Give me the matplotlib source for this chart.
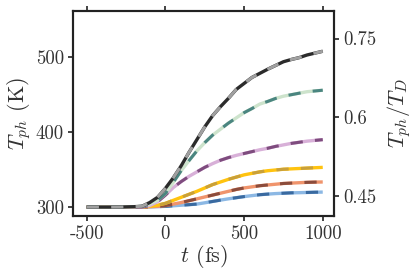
import matplotlib
matplotlib.use("Agg")
import matplotlib.pyplot as plt
import numpy as np

plt.rcParams['font.family'] = 'cmr10'
plt.rcParams['mathtext.fontset'] = 'cm'
plt.rcParams['axes.unicode_minus'] = False
plt.rcParams['axes.formatter.use_mathtext'] = False

t = [-500, -400, -300, -200, -150, -100, -50, 0, 50, 100, 150, 200, 250, 300, 350, 400,
     450, 500, 550, 600, 650, 700, 750, 800, 850, 900, 950, 1000]

T_black = [300, 300, 300, 300.5, 301, 306, 313, 325, 339, 355, 373, 390, 407, 422, 434, 445,
           457, 465, 473, 478.5, 484, 489, 494, 497, 499.5, 503, 505.5, 508]
T_teal = [300, 300, 300, 300.5, 301, 304, 309, 318, 333, 348.5, 362, 375, 386, 396, 404, 412,
          419, 426, 431.5, 437.5, 441, 445, 448, 450, 452, 454, 455, 456]
T_purple = [300, 300, 300, 300, 300, 302, 307, 316, 326, 334, 341, 347, 353, 358, 362.5, 366,
            369, 371.5, 374, 376.5, 378.5, 381, 383, 385, 386.5, 388, 389, 390]
T_yellow = [300, 300, 300, 300, 300, 301, 302.5, 305, 309, 313, 317, 321, 325.5, 330, 333.5, 337,
            340, 343, 345, 347, 348.5, 349.5, 350.5, 351, 351.5, 352, 352.5, 353]
T_brown = [300, 300, 300, 300, 300, 300.5, 301, 302, 304, 306, 308.5, 311, 313.5, 316, 318.5, 321,
           323.5, 325.5, 327, 328.5, 329.5, 330.5, 331.5, 332, 332.5, 333, 333.3, 333.5]
T_blue = [300, 300, 300, 300, 300, 300, 300.5, 301, 301.7, 302.5, 303.2, 304, 305.7, 307.5, 309.3, 311,
          312.5, 314, 315.3, 316.5, 317.3, 318, 318.5, 319, 319.2, 319.5, 319.8, 320]

series = [T_blue, T_brown, T_yellow, T_purple, T_teal, T_black]
base_colors = ['#8cb8e4', '#f0946c', '#ffc30f', '#d8b0d8', '#cde3cc', '#2b2b2b']
dash_colors = ['#3a6aa0', '#8b4c3c', '#c9a03a', '#7e4c7e', '#4a8580', '#a0a0a0']

T_D = 700.0

fig = plt.figure(figsize=(4.15, 2.77), dpi=100)
ax = fig.add_axes([0.176, 0.22, 0.629, 0.741])

for y, c1, c2 in zip(series, base_colors, dash_colors):
    ax.plot(t, y, color=c1, lw=2.4, solid_capstyle='butt')
    ax.plot(t, y, color=c2, lw=2.2, dashes=(4, 4), dash_capstyle='butt')

ax.set_xlim(-587, 1072)
ax.set_ylim(288, 562)
ax.set_xticks([-500, 0, 500, 1000])
ax.set_xticklabels(['-500', '0', '500', '1000'])
ax.set_yticks([300, 400, 500])
ax.set_yticklabels(['300', '400', '500'])
ax.set_xlabel(r'$t$ (fs)', fontsize=16, labelpad=0, color='#333333')
ax.set_ylabel(r'$T_{ph}$ (K)', fontsize=16, labelpad=2, color='#333333')
ax.tick_params(direction='out', length=3.5, width=1.2, labelsize=13.5, pad=3,
               top=True, colors='#222222', labelcolor='#333333')

ax2 = ax.twinx()
lo, hi = ax.get_ylim()
ax2.set_ylim(lo / T_D, hi / T_D)
ax2.set_yticks([0.45, 0.6, 0.75])
ax2.set_yticklabels(['0.45', '0.6', '0.75'])
ax2.set_ylabel(r'$T_{ph}/T_D$', fontsize=16, labelpad=6, color='#333333')
ax2.tick_params(direction='out', length=3.5, width=1.2, labelsize=13.5, pad=3,
                colors='#222222', labelcolor='#333333')

for a in (ax, ax2):
    for s in a.spines.values():
        s.set_linewidth(1.5)
        s.set_color('#222222')

fig.savefig('out.png', dpi=100)
